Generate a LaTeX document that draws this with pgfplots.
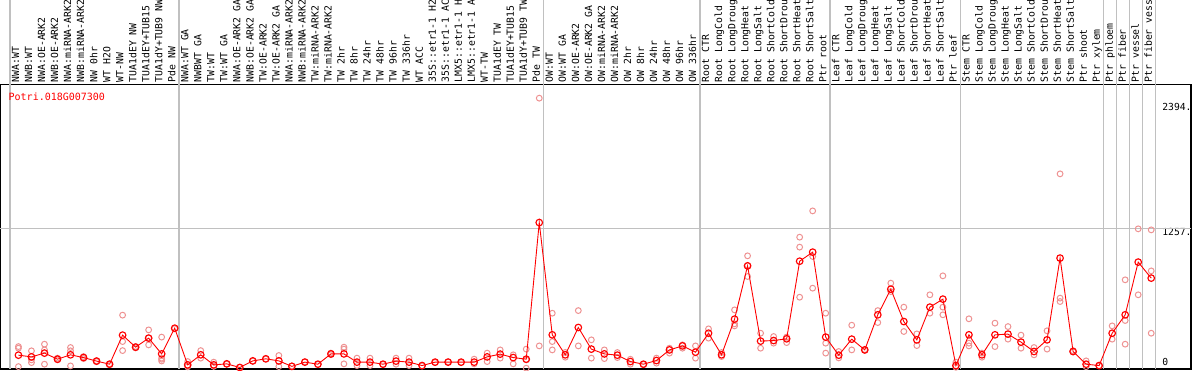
\documentclass[border=0pt]{standalone}
\usepackage{pgfplots}
\pgfplotsset{compat=1.18}
\usepackage{fontspec}
\setmainfont{DejaVu Sans Mono}
\definecolor{sep}{RGB}{192,192,192}
\definecolor{rep}{RGB}{238,146,146}
\definecolor{pure}{RGB}{255,0,0}

\pgfplotstableread{
x y
0 146
1 131
2 164
3 111
4 149
5 125
6 94
7 67
8 321
9 216
10 295
11 157
12 382
13 61
14 149
15 61
16 70
17 38
18 96
19 114
20 96
21 48
22 85
23 67
24 157
25 157
26 85
27 85
28 67
29 94
30 85
31 55
32 85
33 85
34 85
35 85
36 131
37 155
38 125
39 111
40 1306
41 324
42 149
43 388
44 199
45 157
46 146
47 90
48 67
49 99
50 192
51 227
52 172
53 338
54 149
55 461
56 927
57 269
58 274
59 289
60 968
61 1047
62 304
63 146
64 286
65 192
66 499
67 723
68 440
69 280
70 566
71 636
72 55
73 324
74 149
75 324
76 330
77 260
78 178
79 280
80 995
81 178
82 67
83 55
84 338
85 499
86 960
87 820
}\meantable

\pgfplotstableread{
x y
0 221
0 207
0 46
1 184
1 105
1 81
2 242
2 192
2 67
3 120
3 105
4 213
4 184
4 52
5 134
5 116
6 90
6 97
7 64
7 70
8 496
8 265
8 186
9 210
9 222
10 367
10 236
10 297
11 304
11 120
11 95
11 110
12 378
13 90
13 55
13 44
14 186
14 120
15 85
15 52
15 48
16 68
17 40
18 94
19 112
20 143
20 46
21 52
22 88
23 65
24 150
24 164
25 216
25 199
25 70
26 120
26 55
27 120
27 55
28 65
29 120
29 67
30 120
30 55
31 52
32 82
33 88
34 82
35 111
35 70
36 164
36 90
37 192
37 120
38 149
38 70
39 199
39 32
39 105
40 2394
40 227
41 513
41 265
41 192
42 170
42 128
43 536
43 227
44 280
44 120
45 192
45 116
46 169
46 125
47 110
47 67
48 65
49 120
49 76
50 207
50 164
51 236
51 207
52 227
52 120
53 376
53 295
54 169
54 134
55 542
55 420
55 402
56 1015
56 834
56 930
57 338
57 207
58 309
58 251
59 304
59 256
60 1178
60 1091
60 653
61 1408
61 1009
61 732
62 513
62 251
62 164
63 178
63 122
64 408
64 192
65 195
65 188
66 536
66 431
67 776
67 702
68 566
68 353
69 332
69 230
70 674
70 513
71 840
71 566
71 499
72 85
72 40
73 464
73 251
73 227
74 164
74 128
75 426
75 221
76 396
76 286
77 321
77 207
78 213
78 149
79 359
79 199
80 1732
80 645
80 615
81 185
81 175
82 96
82 45
83 52
84 402
84 286
85 805
85 449
85 242
86 1251
86 674
87 1242
87 883
87 338
}\reptable

\begin{document}
\begin{tikzpicture}[x=1pt,y=1pt]
\begin{axis}[
  at={(1,1)}, anchor=south west,
  scale only axis, width=1191pt, height=284.4pt,
  xmin=-1.406, xmax=90.07, ymin=26.2, ymax=2514,
  clip mode=individual,
  axis line style={black, line width=1.6pt},
  major tick length=0pt,
  xtick={0,...,87},
  xticklabel pos=upper,
  xticklabels={NWA:WT,NWB:WT,NWA:OE-ARK2,NWB:OE-ARK2,NWA:miRNA-ARK2,NWB:miRNA-ARK2,NW 0hr,WT H2O,WT-NW,TUA1dEY NW,TUA1dEY+TUB15,TUA1dY+TUB9 NW,Pde NW,
    NWA:WT GA,NWBWT GA,TW:WT,TW:WT GA,NWA:OE-ARK2 GA,NWB:OE-ARK2 GA,TW:OE-ARK2,TW:OE-ARK2 GA,NWA:miRNA-ARK2,NWB:miRNA-ARK2,TW:miRNA-ARK2,TW:miRNA-ARK2,TW 2hr,TW 8hr,TW 24hr,TW 48hr,TW 96hr,TW 336hr,WT ACC,35S::etr1-1 H2,35S::etr1-1 AC,LMX5::etr1-1 H,LMX5::etr1-1 A,WT-TW,TUA1dEY TW,TUA1dEY+TUB15,TUA1dY+TUB9 TW,Pde TW,
    OW:WT,OW:WT GA,OW:OE-ARK2,OW:OE-ARK2 GA,OW:miRNA-ARK2,OW:miRNA-ARK2,OW 2hr,OW 8hr,OW 24hr,OW 48hr,OW 96hr,OW 336hr,
    Root CTR,Root LongCold,Root LongDroug,Root LongHeat,Root LongSalt,Root ShortCold,Root ShortDrou,Root ShortHeat,Root ShortSalt,Ptr root,
    Leaf CTR,Leaf LongCold,Leaf LongDroug,Leaf LongHeat,Leaf LongSalt,Leaf ShortCold,Leaf ShortDrou,Leaf ShortHeat,Leaf ShortSalt,Ptr leaf,
    Stem CTR,Stem LongCold,Stem LongDroug,Stem LongHeat,Stem LongSalt,Stem ShortCold,Stem ShortDrou,Stem ShortHeat,Stem ShortSalt,Ptr shoot,Ptr xylem,
    Ptr phloem,Ptr fiber,Ptr vessel,Ptr fiber vess},
  xticklabel style={font=\fontsize{9.8}{10}\selectfont, xshift=0.7pt, yshift=2pt, rotate=90, anchor=base west, inner sep=0pt},
  ytick={1257,2394},
  yticklabels={\raisebox{-7.7pt}{1257.},\raisebox{-12.4pt}{2394.}},
  yticklabel pos=right,
  yticklabel style={font=\fontsize{9.7}{10}\selectfont, anchor=base west, inner sep=0pt, xshift=-29pt},
  extra y ticks={1257},
  extra y tick labels={},
  extra y tick style={grid=major, major grid style={sep, line width=1.2pt}},
]
\pgfplotsinvokeforeach{-0.66,12.34,40.34,52.34,62.34,72.34,83.34,84.34,85.34,86.34,87.34}{
  \draw[sep, line width=1.5pt] (axis cs:#1,26.2) -- ([yshift=90pt]axis cs:#1,2514);
}
\addplot[only marks, mark=o, mark size=2.9pt, color=rep, mark options={line width=1pt}] table[x=x,y=y] {\reptable};
\addplot[pure, line width=0.9pt, mark=o, mark size=3.3pt, mark options={pure, line width=1.15pt}] table[x=x,y=y] {\meantable};
\node[anchor=base west, inner sep=0pt, text=pure, font=\fontsize{10}{12}\selectfont] at (rel axis cs:0.007,0.9434) {Potri.018G007300};
\node[anchor=base west, inner sep=0pt, font=\fontsize{9.7}{10}\selectfont] at (rel axis cs:0.9757,0.0106) {0};
\end{axis}
\pgfresetboundingbox
\path[use as bounding box] (0,0) rectangle (1194,370);
\end{tikzpicture}
\end{document}
